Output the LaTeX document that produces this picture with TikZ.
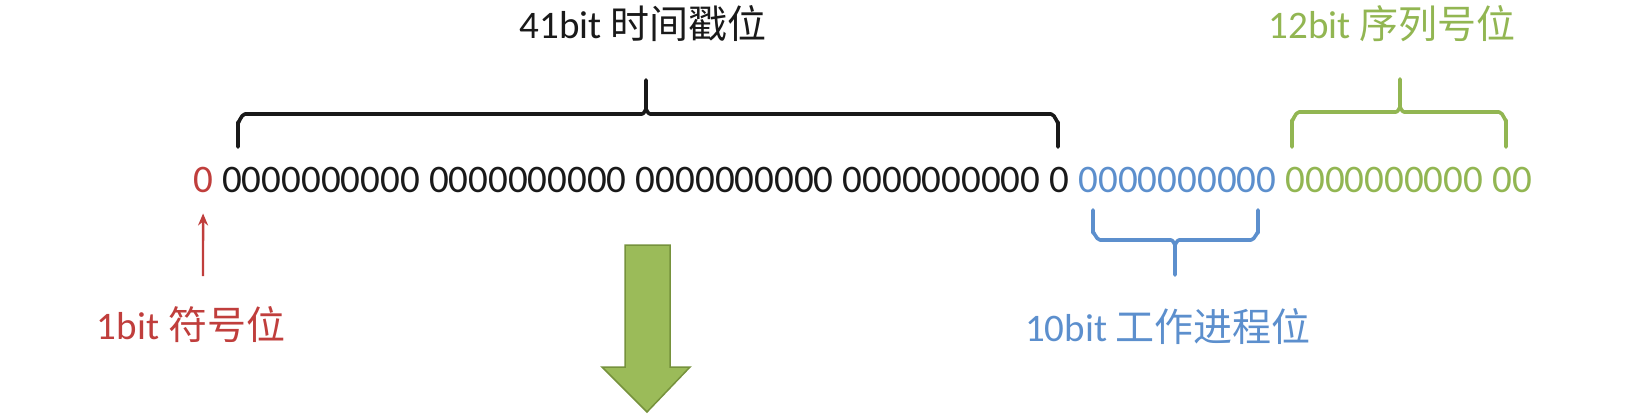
\documentclass[tikz,border=0pt]{standalone}
\usepackage{fontspec}
\usetikzlibrary{arrows.meta}
\setmainfont{Carlito}
\newfontfamily\cjk{Noto Sans CJK SC}
\definecolor{cred}{RGB}{192,62,60}
\definecolor{cblue}{RGB}{92,143,205}
\definecolor{cgreen}{RGB}{146,182,82}
\definecolor{cblack}{RGB}{25,25,25}
\definecolor{afill}{RGB}{155,187,89}
\definecolor{aline}{RGB}{118,146,60}
\tikzset{
  bits/.style={anchor=base west, inner sep=0pt, font=\fontsize{39}{47}\selectfont},
  lbl/.style={inner sep=0pt, font=\fontsize{39}{47}\selectfont},
  brace/.style={line width=3.6pt, line cap=round, line join=round},
}
\begin{document}
\begin{tikzpicture}[x=1pt,y=-1pt]
\useasboundingbox (0,0) rectangle (1632,416);
\fill[white] (0,0) rectangle (1632,416);
% digit row
\node[bits, text=cred] (b0) at (193,192) {0};
\node[bits, text=cblack] (g1) at ([xshift=8.8pt]b0.base east) {0000000000};
\node[bits, text=cblack] (g2) at ([xshift=8.8pt]g1.base east) {0000000000};
\node[bits, text=cblack] (g3) at ([xshift=8.8pt]g2.base east) {0000000000};
\node[bits, text=cblack] (g4) at ([xshift=8.8pt]g3.base east) {0000000000};
\node[bits, text=cblack] (g5) at ([xshift=8.8pt]g4.base east) {0};
\node[bits, text=cblue] (w1) at ([xshift=8.8pt]g5.base east) {0000000000};
\node[bits, text=cgreen] (s1) at ([xshift=8.8pt]w1.base east) {0000000000};
\node[bits, text=cgreen] (s2) at ([xshift=8.8pt]s1.base east) {00};
% labels
\node[lbl, text=cblack] (tts) at (643,24) {41bit {\cjk 时间戳位}};
\node[lbl, text=cgreen] (tseq) at (1392,24) {12bit {\cjk 序列号位}};
\node[lbl, text=cred] (tsign) at (191,325) {1bit {\cjk 符号位}};
\node[lbl, text=cblue] (twork) at (1168,327) {10bit {\cjk 工作进程位}};
% black brace (top)
\draw[brace, cblack] (238,147) -- (238,122) to[out=-90,in=180] (245,114) -- (642,114)
  to[out=0,in=90] (646,110) -- (646,80) -- (646,110) to[out=90,in=180] (650,114)
  -- (1051,114) to[out=0,in=-90] (1058,122) -- (1058,147);
% green brace (top)
\draw[brace, cgreen] (1292,147) -- (1292,120) to[out=-90,in=180] (1299,112) -- (1396,112)
  to[out=0,in=90] (1400,108) -- (1400,79) -- (1400,108) to[out=90,in=180] (1404,112)
  -- (1499,112) to[out=0,in=-90] (1506,120) -- (1506,147);
% blue brace (bottom)
\draw[brace, cblue] (1093,210) -- (1093,233) to[out=90,in=180] (1100,240) -- (1171,240)
  to[out=0,in=-90] (1175,244) -- (1175,275) -- (1175,244) to[out=-90,in=180] (1179,240)
  -- (1251,240) to[out=0,in=90] (1258,233) -- (1258,210);
% red arrow
\coordinate (rstart) at (203,276);
\draw[cred, line width=2.4pt, -{Stealth[length=12pt,width=10pt]}] (rstart) -- ([yshift=-21pt]b0.south);
% big green arrow
\draw[fill=afill, draw=aline, line width=1.5pt, line join=miter]
  (625,245) -- (670,245) -- (670,367) -- (690,367) -- (647,412) -- (602,367) -- (625,367) -- cycle;
\end{tikzpicture}
\end{document}
